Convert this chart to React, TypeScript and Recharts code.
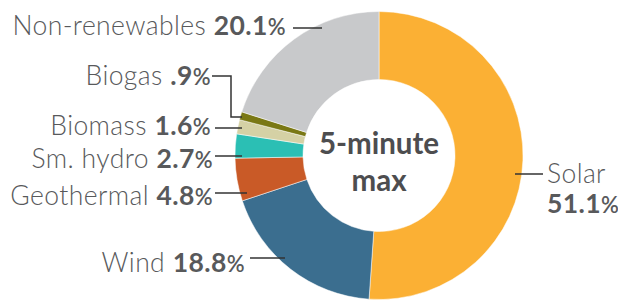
import { PieChart, Pie, Cell } from "recharts";

const sources = ["Solar", "Wind", "Geothermal", "Sm. hydro", "Biomass", "Biogas", "Non-renewables"];
const shares = [51.1, 18.8, 4.8, 2.7, 1.6, 0.9, 20.1];
const shareText = ["51.1", "18.8", "4.8", "2.7", "1.6", ".9", "20.1"];
const colors = ["#FBB034", "#3B6E8F", "#C95A27", "#2BBFB4", "#D5D1A5", "#7A7814", "#C8C9CB"];

// where each callout sits: text anchor, baseline, leader line
const callouts = [
  { x: 547, y: 183, line: [[515, 174], [543, 174]] },
  { x: 245, y: 272, line: [[250, 258], [285, 258]] },
  { x: 213, y: 205, line: [[215, 193], [247, 193]] },
  { x: 213, y: 168, line: [[215, 156], [242, 156]] },
  { x: 211, y: 135, line: [[215, 128], [242, 128]] },
  { x: 211, y: 85, line: [[212, 76], [231, 76], [231, 117], [242, 117]] },
  { x: 286, y: 35, line: [[293, 28], [322, 28]] },
];

const data = sources.map((name, i) => ({ name, value: shares[i], pct: shareText[i] }));

const FONT = "Lato, 'Open Sans', sans-serif";
const TXT = "#58595B";
const FS = 26.5;

function renderCallout(props: any) {
  const i = props.index;
  const c = callouts[i];
  const pts = c.line.map((p) => p.join(",")).join(" ");
  const pct = data[i].pct;
  if (i === 0) {
    return (
      <g key={i}>
        <polyline points={pts} fill="none" stroke="#333" strokeWidth={1.5} />
        <text x={c.x} y={c.y} fontFamily={FONT} fontSize={FS} fontWeight={300} letterSpacing={0.4} fill={TXT}>
          {data[i].name}
        </text>
        <text x={c.x} y={c.y + 30} fontFamily={FONT} fontSize={FS} fontWeight={700} letterSpacing={0.4} fill={TXT}>
          {pct}
          <tspan fontSize={22} fontWeight={600}>%</tspan>
        </text>
        {/* centre caption */}
        <text x={props.cx} y={props.cy - 2} textAnchor="middle" fontFamily={FONT} fontSize={29.5} fontWeight={700} fill="#4D4D4F">
          5-minute
        </text>
        <text x={props.cx} y={props.cy + 35} textAnchor="middle" fontFamily={FONT} fontSize={29.5} fontWeight={700} fill="#4D4D4F">
          max
        </text>
      </g>
    );
  }
  return (
    <g key={i}>
      <polyline points={pts} fill="none" stroke="#333" strokeWidth={1.5} />
      <text x={c.x} y={c.y} textAnchor="end" fontFamily={FONT} fontSize={FS} letterSpacing={0.4} fill={TXT}>
        <tspan fontWeight={300}>{data[i].name} </tspan>
        <tspan fontWeight={700}>{pct}</tspan>
        <tspan fontSize={22} fontWeight={600}>%</tspan>
      </text>
    </g>
  );
}

export default function App() {
  return (
    <div style={{ position: "absolute", left: 0, top: 0, background: "#fff" }}>
      <PieChart width={618} height={301} margin={{ top: 0, right: 0, bottom: 0, left: 0 }}>
        <Pie
          data={data}
          dataKey="value"
          nameKey="name"
          cx={379}
          cy={155.5}
          innerRadius={76}
          outerRadius={144}
          startAngle={90}
          endAngle={-270}
          stroke="#fff"
          strokeWidth={0.5}
          label={renderCallout}
          labelLine={false}
          isAnimationActive={false}
        >
          {data.map((d, i) => (
            <Cell key={d.name} fill={colors[i]} />
          ))}
        </Pie>
      </PieChart>
    </div>
  );
}
